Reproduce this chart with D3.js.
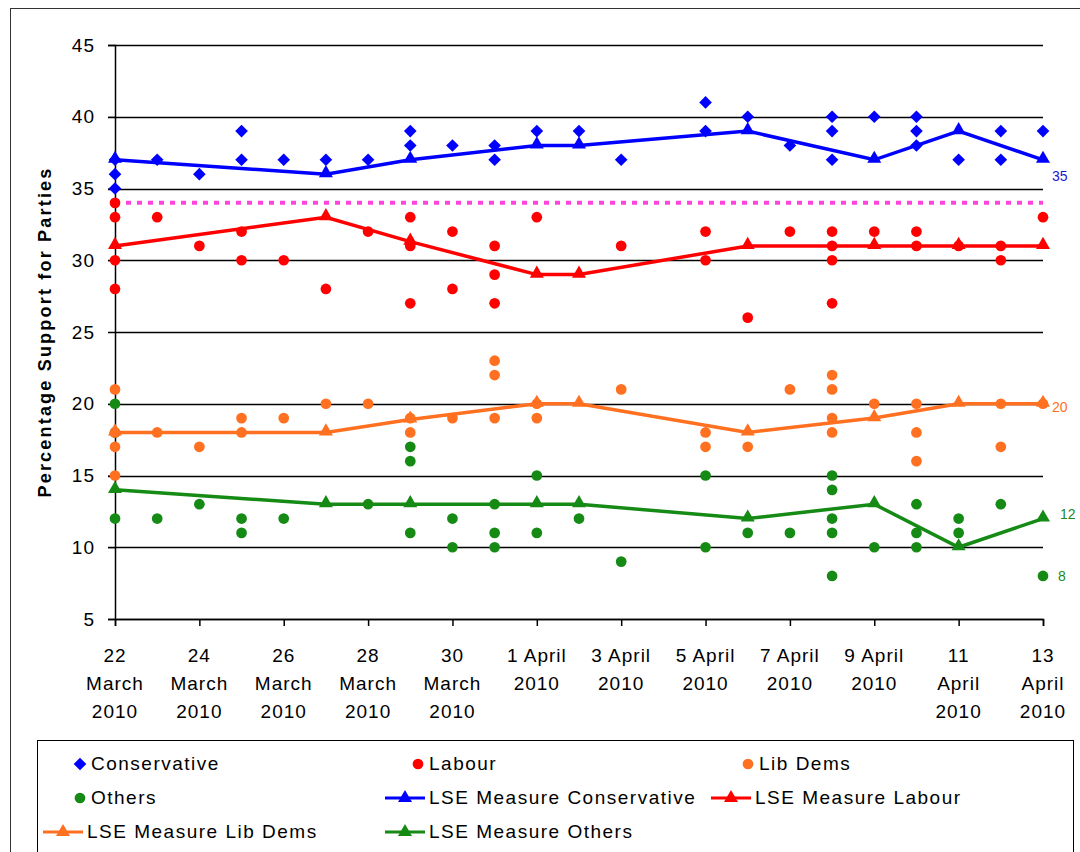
<!DOCTYPE html>
<html>
<head>
<meta charset="utf-8">
<script src="https://cdn.jsdelivr.net/npm/d3@7"></script>
<style>
  body { margin: 0; background: #fff; }
  svg text { font-family: "Liberation Sans", Arial, sans-serif; }
</style>
</head>
<body>
<div id="chart"></div>
<script>
// Poll readings, [date, value]
var conPolls = [
    ["2010-03-22", 37], ["2010-03-22", 36], ["2010-03-22", 35], ["2010-03-23", 37], ["2010-03-24", 36],
    ["2010-03-25", 39], ["2010-03-25", 37], ["2010-03-26", 37], ["2010-03-27", 37], ["2010-03-28", 37],
    ["2010-03-29", 39], ["2010-03-29", 38], ["2010-03-30", 38], ["2010-03-31", 38], ["2010-03-31", 37],
    ["2010-04-01", 39], ["2010-04-02", 39], ["2010-04-03", 37], ["2010-04-05", 41], ["2010-04-05", 39],
    ["2010-04-06", 40], ["2010-04-07", 38], ["2010-04-08", 40], ["2010-04-08", 39], ["2010-04-08", 37],
    ["2010-04-09", 40], ["2010-04-10", 40], ["2010-04-10", 39], ["2010-04-10", 38], ["2010-04-11", 37],
    ["2010-04-12", 39], ["2010-04-12", 37], ["2010-04-13", 39]
];
var labPolls = [
    ["2010-03-22", 34], ["2010-03-22", 33], ["2010-03-22", 30], ["2010-03-22", 28], ["2010-03-23", 33],
    ["2010-03-24", 31], ["2010-03-25", 32], ["2010-03-25", 30], ["2010-03-26", 30], ["2010-03-27", 28],
    ["2010-03-28", 32], ["2010-03-29", 33], ["2010-03-29", 31], ["2010-03-29", 27], ["2010-03-30", 32],
    ["2010-03-30", 28], ["2010-03-31", 31], ["2010-03-31", 29], ["2010-03-31", 27], ["2010-04-01", 33],
    ["2010-04-03", 31], ["2010-04-05", 32], ["2010-04-05", 30], ["2010-04-06", 26], ["2010-04-07", 32],
    ["2010-04-08", 32], ["2010-04-08", 31], ["2010-04-08", 30], ["2010-04-08", 27], ["2010-04-09", 32],
    ["2010-04-10", 32], ["2010-04-10", 31], ["2010-04-11", 31], ["2010-04-12", 31], ["2010-04-12", 30],
    ["2010-04-13", 33]
];
var ldPolls = [
    ["2010-03-22", 21], ["2010-03-22", 18], ["2010-03-22", 17], ["2010-03-22", 15], ["2010-03-23", 18],
    ["2010-03-24", 17], ["2010-03-25", 19], ["2010-03-25", 18], ["2010-03-26", 19], ["2010-03-27", 20],
    ["2010-03-28", 20], ["2010-03-29", 19], ["2010-03-29", 18], ["2010-03-30", 19], ["2010-03-31", 23],
    ["2010-03-31", 22], ["2010-03-31", 19], ["2010-04-01", 20], ["2010-04-01", 19], ["2010-04-03", 21],
    ["2010-04-05", 18], ["2010-04-05", 17], ["2010-04-06", 17], ["2010-04-07", 21], ["2010-04-08", 22],
    ["2010-04-08", 21], ["2010-04-08", 19], ["2010-04-08", 18], ["2010-04-09", 20], ["2010-04-10", 20],
    ["2010-04-10", 18], ["2010-04-10", 16], ["2010-04-12", 20], ["2010-04-12", 17], ["2010-04-13", 20]
];
var othPolls = [
    ["2010-03-22", 20], ["2010-03-22", 18], ["2010-03-22", 12], ["2010-03-23", 12], ["2010-03-24", 13],
    ["2010-03-25", 12], ["2010-03-25", 11], ["2010-03-26", 12], ["2010-03-28", 13], ["2010-03-29", 17],
    ["2010-03-29", 16], ["2010-03-29", 11], ["2010-03-30", 12], ["2010-03-30", 10], ["2010-03-31", 13],
    ["2010-03-31", 11], ["2010-03-31", 10], ["2010-04-01", 15], ["2010-04-01", 11], ["2010-04-02", 12],
    ["2010-04-03", 9], ["2010-04-05", 15], ["2010-04-05", 10], ["2010-04-06", 11], ["2010-04-07", 11],
    ["2010-04-08", 15], ["2010-04-08", 14], ["2010-04-08", 12], ["2010-04-08", 11], ["2010-04-08", 8],
    ["2010-04-09", 10], ["2010-04-10", 13], ["2010-04-10", 11], ["2010-04-10", 10], ["2010-04-11", 12],
    ["2010-04-11", 11], ["2010-04-12", 13], ["2010-04-13", 8]
];

// LSE measure
var lseDates = ["2010-03-22", "2010-03-27", "2010-03-29", "2010-04-01", "2010-04-02", "2010-04-06", "2010-04-09", "2010-04-11", "2010-04-13"];
var lseCon = [37, 36, 37, 38, 38, 39, 37, 39, 37];
var lseLab = [31, 33, 31.3, 29, 29, 31, 31, 31, 31];
var lseLd = [18, 18, 18.9, 20, 20, 18, 19, 20, 20];
var lseOth = [14, 13, 13, 13, 13, 12, 13, 10, 12];

var refLevel = 34;
var yTicks = [5, 10, 15, 20, 25, 30, 35, 40, 45];
var xTickDates = ["2010-03-22", "2010-03-24", "2010-03-26", "2010-03-28", "2010-03-30", "2010-04-01",
    "2010-04-03", "2010-04-05", "2010-04-07", "2010-04-09", "2010-04-11", "2010-04-13"];
var xTickLabels = [["22", "March", "2010"], ["24", "March", "2010"], ["26", "March", "2010"], ["28", "March", "2010"],
    ["30", "March", "2010"], ["1 April", "2010"], ["3 April", "2010"], ["5 April", "2010"], ["7 April", "2010"],
    ["9 April", "2010"], ["11", "April", "2010"], ["13", "April", "2010"]];
var endLabels = [["35", 35.9, "#1a1ad0"], ["20", 19.8, "#ff7020"], ["12", 12.3, "#1a8a1a"], ["8", 8, "#1a8a1a"]];

var C = { con: "#0000ff", lab: "#ff0000", ld: "#ff7020", oth: "#158a15", ref: "#ff44dd" };

var W = 1080, H = 852;
var parse = d3.timeParse("%Y-%m-%d");

var svg = d3.select("#chart").append("svg").attr("width", W).attr("height", H);

// outer frame
svg.append("rect").attr("x", 10.5).attr("y", 8.5).attr("width", W - 4).attr("height", H)
    .attr("fill", "none").attr("stroke", "#333").attr("stroke-width", 1);

var x = d3.scaleTime().domain([parse("2010-03-22"), parse("2010-04-13")]).range([115, 1043]);
var y = d3.scaleLinear().domain([5, 45]).range([619, 45]);

// gridlines
svg.append("g").selectAll("line").data(yTicks).join("line")
    .attr("x1", 108).attr("x2", 1043)
    .attr("y1", d => Math.round(y(d)) + 0.5).attr("y2", d => Math.round(y(d)) + 0.5)
    .attr("stroke", "#000").attr("stroke-width", 1.5);

// y axis
var yAxis = svg.append("g").attr("transform", "translate(115,0)")
    .call(d3.axisLeft(y).tickValues(yTicks).tickSize(7).tickPadding(13));
yAxis.select(".domain").attr("stroke", "#000").attr("stroke-width", 1.5);
yAxis.selectAll("text").attr("font-size", 19).attr("fill", "#000").attr("letter-spacing", 1)
    .attr("font-family", "Liberation Sans, Arial, sans-serif");

// x axis
var xAxis = svg.append("g").attr("transform", "translate(0,619)")
    .call(d3.axisBottom(x).tickValues(xTickDates.map(parse)).tickSize(7).tickFormat(""));
xAxis.select(".domain").attr("stroke", "#000").attr("stroke-width", 1.5);
xAxis.selectAll("line").attr("stroke-width", 1.5);

var xl = svg.append("g").selectAll("text").data(xTickDates).join("text")
    .attr("x", d => x(parse(d))).attr("y", 662)
    .attr("text-anchor", "middle").attr("font-size", 19).attr("letter-spacing", 1);
xl.each(function(d, i) {
    var t = d3.select(this);
    xTickLabels[i].forEach((s, k) => {
        t.append("tspan").attr("x", x(parse(d))).attr("dy", k === 0 ? 0 : 28).text(s);
    });
});

// y title
svg.append("text").attr("transform", "translate(51,332) rotate(-90)")
    .attr("text-anchor", "middle").attr("font-size", 18).attr("font-weight", "bold")
    .attr("letter-spacing", 2.2)
    .text("Percentage Support for Parties");

// reference dotted line
svg.append("line").attr("x1", 115).attr("x2", 1043).attr("y1", y(refLevel)).attr("y2", y(refLevel))
    .attr("stroke", C.ref).attr("stroke-width", 4).attr("stroke-dasharray", "5,6");

var diamond = d3.symbol().type(d3.symbolSquare).size(80);
var circle = d3.symbol().type(d3.symbolCircle).size(90);
var tri = d3.symbol().type(d3.symbolTriangle).size(85);

function drawPolls(data, sym, col, rot) {
    svg.append("g").selectAll("path").data(data).join("path")
        .attr("d", sym)
        .attr("transform", d => `translate(${x(parse(d[0]))},${y(d[1])}) rotate(${rot})`)
        .attr("fill", col);
}
drawPolls(othPolls, circle, C.oth, 0);
drawPolls(ldPolls, circle, C.ld, 0);
drawPolls(labPolls, circle, C.lab, 0);
drawPolls(conPolls, diamond, C.con, 45);

var line = d3.line().x(d => x(parse(d[0]))).y(d => y(d[1]));
function drawLse(vals, col) {
    var pts = lseDates.map((d, i) => [d, vals[i]]);
    svg.append("path").datum(pts).attr("d", line)
        .attr("fill", "none").attr("stroke", col).attr("stroke-width", 3.5);
    svg.append("g").selectAll("path").data(pts).join("path")
        .attr("d", tri)
        .attr("transform", d => `translate(${x(parse(d[0]))},${y(d[1]) - 1})`)
        .attr("fill", col);
}
drawLse(lseOth, C.oth);
drawLse(lseLd, C.ld);
drawLse(lseLab, C.lab);
drawLse(lseCon, C.con);

// end labels
svg.append("g").selectAll("text").data(endLabels).join("text")
    .attr("x", d => d[0] === "8" ? 1058 : (d[0] === "12" ? 1060 : 1052))
    .attr("y", d => y(d[1]) + 5)
    .attr("font-size", 14).attr("fill", d => d[2])
    .text(d => d[0]);

// legend
var legendItems = [
    { name: "Conservative", col: C.con, kind: "diamond", lx: 80, ly: 764 },
    { name: "Labour", col: C.lab, kind: "circle", lx: 418, ly: 764 },
    { name: "Lib Dems", col: C.ld, kind: "circle", lx: 748, ly: 764 },
    { name: "Others", col: C.oth, kind: "circle", lx: 80, ly: 798 },
    { name: "LSE Measure Conservative", col: C.con, kind: "line", lx: 405, ly: 798 },
    { name: "LSE Measure Labour", col: C.lab, kind: "line", lx: 731, ly: 798 },
    { name: "LSE Measure Lib Dems", col: C.ld, kind: "line", lx: 63, ly: 832 },
    { name: "LSE Measure Others", col: C.oth, kind: "line", lx: 405, ly: 832 }
];
svg.append("rect").attr("x", 37.5).attr("y", 740.5).attr("width", 1036).attr("height", 130)
    .attr("fill", "none").attr("stroke", "#000").attr("stroke-width", 1);

var lg = svg.append("g").selectAll("g").data(legendItems).join("g")
    .attr("transform", d => `translate(${d.lx},${d.ly})`);
lg.filter(d => d.kind === "line").append("line")
    .attr("x1", -20).attr("x2", 20).attr("stroke", d => d.col).attr("stroke-width", 3);
lg.append("path")
    .attr("d", d => d.kind === "diamond" ? diamond() : d.kind === "circle" ? circle() : tri())
    .attr("transform", d => d.kind === "diamond" ? "rotate(45)" : null)
    .attr("fill", d => d.col);
lg.append("text")
    .attr("x", d => d.kind === "line" ? 24 : 11).attr("y", 6)
    .attr("font-size", 19).attr("letter-spacing", 1.5).text(d => d.name);
</script>
</body>
</html>
